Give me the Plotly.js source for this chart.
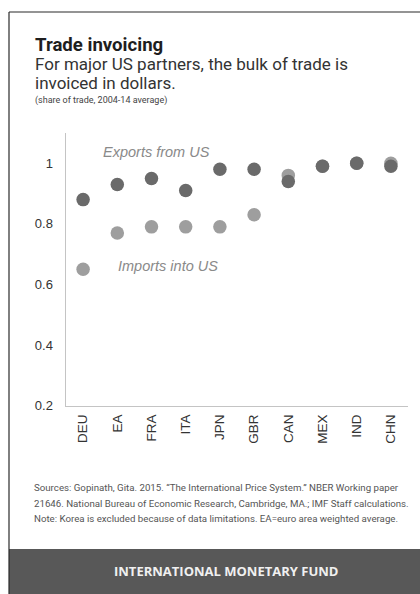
<!DOCTYPE html>
<html>
<head>
<meta charset="utf-8">
<script src="https://cdn.plot.ly/plotly-3.0.1.min.js"></script>
<style>
  html, body { margin: 0; padding: 0; background: #ffffff; }
  #chart { width: 420px; height: 594px; }
</style>
</head>
<body>
<div id="chart"></div>
<script>
// Partner economies and the dollar share of their trade with the US
const countries = ["DEU", "EA", "FRA", "ITA", "JPN", "GBR", "CAN", "MEX", "IND", "CHN"];
const importsIntoUS = [0.65, 0.77, 0.79, 0.79, 0.79, 0.83, 0.96, 0.99, 1.00, 1.00];
const exportsFromUS = [0.88, 0.93, 0.95, 0.91, 0.98, 0.98, 0.94, 0.99, 1.00, 0.99];
const yTicks = [0.2, 0.4, 0.6, 0.8, 1];
const yTickText = ["0.2", "0.4", "0.6", "0.8", "1"];

const W = 420, H = 594;
const px = x => x / W;          // pixel -> paper x
const py = y => 1 - y / H;      // pixel -> paper y

const font = "Roboto, 'Liberation Sans', sans-serif";
const axisFont = "'Liberation Sans', Arial, sans-serif";

const traces = [
  {
    type: "scatter", mode: "markers", name: "Imports into US",
    x: countries, y: importsIntoUS,
    marker: { size: 13.5, color: "#9e9e9e", line: { width: 0 } },
    hoverinfo: "x+y"
  },
  {
    type: "scatter", mode: "markers", name: "Exports from US",
    x: countries, y: exportsFromUS,
    marker: { size: 13.5, color: "#6a6a6a", line: { width: 0 } },
    hoverinfo: "x+y"
  }
];

// single-line text placed by its vertical centre, in pixels from the top
function label(text, x, yMid, size, color, family, anchor) {
  return {
    xref: "paper", yref: "paper", x: px(x), y: py(yMid),
    xanchor: anchor || "left", yanchor: "middle",
    text: text, showarrow: false,
    font: { family: family || font, size: size, color: color }
  };
}

const layout = {
  width: W, height: H,
  margin: { l: 0, r: 0, t: 0, b: 0 },
  paper_bgcolor: "#ffffff",
  plot_bgcolor: "#ffffff",
  showlegend: false,
  font: { family: font, color: "#333" },
  xaxis: {
    domain: [px(66), px(408)],
    type: "category",
    range: [-0.5, 9.5],
    showgrid: false, zeroline: false,
    showline: true, linecolor: "#c4c4c4", linewidth: 1.5,
    ticks: "", tickangle: -90,
    ticklabelstandoff: 2,
    tickfont: { family: axisFont, size: 13.5, color: "#333" }
  },
  yaxis: {
    domain: [py(405.5), py(133)],
    range: [0.2, 1.1],
    tickvals: yTicks, ticktext: yTickText,
    showgrid: false, zeroline: false,
    showline: true, linecolor: "#c4c4c4", linewidth: 1.5,
    ticks: "",
    ticklabelstandoff: 9,
    tickfont: { family: axisFont, size: 13, color: "#333" }
  },
  shapes: [
    // card border (top and left edges)
    { type: "line", xref: "paper", yref: "paper", x0: px(9), x1: 1, y0: py(12), y1: py(12),
      line: { color: "#2a2a2a", width: 1.2 } },
    { type: "line", xref: "paper", yref: "paper", x0: px(9), x1: px(9), y0: py(12), y1: 0,
      line: { color: "#2a2a2a", width: 1.2 } },
    // footer band
    { type: "rect", xref: "paper", yref: "paper", x0: px(9), x1: 1, y0: 0, y1: py(549),
      fillcolor: "#585858", line: { width: 0 }, layer: "below" }
  ],
  annotations: [
    label("<b>Trade invoicing</b>", 32.5, 45, 18.6, "#1e1e1e"),
    label("For major US partners, the bulk of trade is", 32.5, 64.4, 17, "#333"),
    label("invoiced in dollars.", 32.5, 82.7, 17, "#333"),
    label("(share of trade, 2004-14 average)", 32.5, 100.5, 9, "#444"),
    { x: 2.16, y: 1.037, xref: "x", yref: "y", text: "<i>Exports from US</i>", showarrow: false,
      font: { family: axisFont, size: 14.5, color: "#8a8a8a" } },
    { x: 2.47, y: 0.661, xref: "x", yref: "y", text: "<i>Imports into US</i>", showarrow: false,
      font: { family: axisFont, size: 14.5, color: "#8a8a8a" } },
    label("Sources: Gopinath, Gita. 2015. \u201cThe International Price System.\u201d NBER Working paper",
          32, 487.5, 9.7, "#555"),
    label("21646. National Bureau of Economic Research, Cambridge, MA.; IMF Staff calculations.",
          32, 503, 9.7, "#555"),
    label("Note: Korea is excluded because of data limitations. EA=euro area weighted average.",
          32, 518.5, 9.7, "#555"),
    label("<b>INTERNATIONAL MONETARY FUND</b>", 226, 571, 13, "#f0f0f0",
          "'Open Sans', sans-serif", "center")
  ]
};

Plotly.newPlot("chart", traces, layout, { displayModeBar: false, staticPlot: true });
</script>
</body>
</html>
